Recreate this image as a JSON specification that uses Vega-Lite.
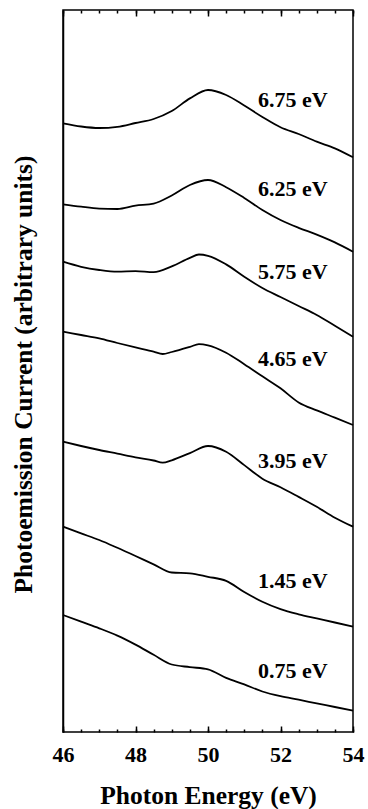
{
  "$schema": "https://vega.github.io/schema/vega-lite/v6.json",
  "width": 290,
  "height": 722,
  "autosize": "none",
  "padding": {"left": 63, "top": 10, "right": 15, "bottom": 77},
  "background": "white",
  "config": {
    "font": "Liberation Serif",
    "view": {"stroke": "black", "strokeWidth": 1.5},
    "axis": {"grid": false, "domain": false, "tickColor": "black", "tickWidth": 1.5}
  },
  "datasets": {
    "spectra": [
      {"series": "6.75 eV", "group": "upper", "energy": 46, "current": 608.7},
      {"series": "6.75 eV", "group": "upper", "energy": 46.5, "current": 605.5},
      {"series": "6.75 eV", "group": "upper", "energy": 47, "current": 604},
      {"series": "6.75 eV", "group": "upper", "energy": 47.5, "current": 605.2},
      {"series": "6.75 eV", "group": "upper", "energy": 48, "current": 609},
      {"series": "6.75 eV", "group": "upper", "energy": 48.5, "current": 613},
      {"series": "6.75 eV", "group": "upper", "energy": 49, "current": 621},
      {"series": "6.75 eV", "group": "upper", "energy": 49.5, "current": 633.6},
      {"series": "6.75 eV", "group": "upper", "energy": 50, "current": 642},
      {"series": "6.75 eV", "group": "upper", "energy": 50.5, "current": 637},
      {"series": "6.75 eV", "group": "upper", "energy": 51, "current": 626.5},
      {"series": "6.75 eV", "group": "upper", "energy": 51.5, "current": 615},
      {"series": "6.75 eV", "group": "upper", "energy": 52, "current": 604.7},
      {"series": "6.75 eV", "group": "upper", "energy": 52.5, "current": 598},
      {"series": "6.75 eV", "group": "upper", "energy": 53, "current": 590.3},
      {"series": "6.75 eV", "group": "upper", "energy": 53.5, "current": 583.7},
      {"series": "6.75 eV", "group": "upper", "energy": 54, "current": 574.7},

      {"series": "6.25 eV", "group": "upper", "energy": 46, "current": 527.7},
      {"series": "6.25 eV", "group": "upper", "energy": 46.5, "current": 525.3},
      {"series": "6.25 eV", "group": "upper", "energy": 47, "current": 523.4},
      {"series": "6.25 eV", "group": "upper", "energy": 47.5, "current": 523},
      {"series": "6.25 eV", "group": "upper", "energy": 48, "current": 526.3},
      {"series": "6.25 eV", "group": "upper", "energy": 48.5, "current": 528.4},
      {"series": "6.25 eV", "group": "upper", "energy": 49, "current": 536.5},
      {"series": "6.25 eV", "group": "upper", "energy": 49.5, "current": 547},
      {"series": "6.25 eV", "group": "upper", "energy": 50, "current": 552},
      {"series": "6.25 eV", "group": "upper", "energy": 50.5, "current": 544.8},
      {"series": "6.25 eV", "group": "upper", "energy": 51, "current": 534},
      {"series": "6.25 eV", "group": "upper", "energy": 51.5, "current": 522},
      {"series": "6.25 eV", "group": "upper", "energy": 52, "current": 512},
      {"series": "6.25 eV", "group": "upper", "energy": 52.5, "current": 504.2},
      {"series": "6.25 eV", "group": "upper", "energy": 53, "current": 497.4},
      {"series": "6.25 eV", "group": "upper", "energy": 53.5, "current": 489.6},
      {"series": "6.25 eV", "group": "upper", "energy": 54, "current": 480.3},

      {"series": "5.75 eV", "group": "upper", "energy": 46, "current": 470.3},
      {"series": "5.75 eV", "group": "upper", "energy": 46.5, "current": 465.2},
      {"series": "5.75 eV", "group": "upper", "energy": 47, "current": 462},
      {"series": "5.75 eV", "group": "upper", "energy": 47.5, "current": 460.3},
      {"series": "5.75 eV", "group": "upper", "energy": 48, "current": 460.9},
      {"series": "5.75 eV", "group": "upper", "energy": 48.5, "current": 459.8},
      {"series": "5.75 eV", "group": "upper", "energy": 49, "current": 465.6},
      {"series": "5.75 eV", "group": "upper", "energy": 49.5, "current": 474.1},
      {"series": "5.75 eV", "group": "upper", "energy": 49.75, "current": 477.5},
      {"series": "5.75 eV", "group": "upper", "energy": 50, "current": 476.2},
      {"series": "5.75 eV", "group": "upper", "energy": 50.5, "current": 467.6},
      {"series": "5.75 eV", "group": "upper", "energy": 51, "current": 455.2},
      {"series": "5.75 eV", "group": "upper", "energy": 51.5, "current": 444},
      {"series": "5.75 eV", "group": "upper", "energy": 52, "current": 435},
      {"series": "5.75 eV", "group": "upper", "energy": 52.5, "current": 426},
      {"series": "5.75 eV", "group": "upper", "energy": 53, "current": 417},
      {"series": "5.75 eV", "group": "upper", "energy": 53.5, "current": 406.2},
      {"series": "5.75 eV", "group": "upper", "energy": 54, "current": 395.3},

      {"series": "4.65 eV", "group": "upper", "energy": 46, "current": 400.3},
      {"series": "4.65 eV", "group": "upper", "energy": 46.5, "current": 397},
      {"series": "4.65 eV", "group": "upper", "energy": 47, "current": 393.7},
      {"series": "4.65 eV", "group": "upper", "energy": 47.5, "current": 389},
      {"series": "4.65 eV", "group": "upper", "energy": 48, "current": 384.6},
      {"series": "4.65 eV", "group": "upper", "energy": 48.5, "current": 380.4},
      {"series": "4.65 eV", "group": "upper", "energy": 48.75, "current": 378},
      {"series": "4.65 eV", "group": "upper", "energy": 49, "current": 380},
      {"series": "4.65 eV", "group": "upper", "energy": 49.5, "current": 385.1},
      {"series": "4.65 eV", "group": "upper", "energy": 49.75, "current": 387.9},
      {"series": "4.65 eV", "group": "upper", "energy": 50, "current": 386.7},
      {"series": "4.65 eV", "group": "upper", "energy": 50.5, "current": 379.3},
      {"series": "4.65 eV", "group": "upper", "energy": 51, "current": 367.8},
      {"series": "4.65 eV", "group": "upper", "energy": 51.5, "current": 355.7},
      {"series": "4.65 eV", "group": "upper", "energy": 52, "current": 343.7},
      {"series": "4.65 eV", "group": "upper", "energy": 52.5, "current": 329.6},
      {"series": "4.65 eV", "group": "upper", "energy": 53, "current": 321.6},
      {"series": "4.65 eV", "group": "upper", "energy": 53.5, "current": 314.4},
      {"series": "4.65 eV", "group": "upper", "energy": 54, "current": 307},

      {"series": "3.95 eV", "group": "lower", "energy": 46, "current": 290.3},
      {"series": "3.95 eV", "group": "lower", "energy": 46.5, "current": 286},
      {"series": "3.95 eV", "group": "lower", "energy": 47, "current": 282},
      {"series": "3.95 eV", "group": "lower", "energy": 47.5, "current": 278.4},
      {"series": "3.95 eV", "group": "lower", "energy": 48, "current": 274.7},
      {"series": "3.95 eV", "group": "lower", "energy": 48.5, "current": 271.5},
      {"series": "3.95 eV", "group": "lower", "energy": 48.75, "current": 269.3},
      {"series": "3.95 eV", "group": "lower", "energy": 49, "current": 271.7},
      {"series": "3.95 eV", "group": "lower", "energy": 49.5, "current": 278.9},
      {"series": "3.95 eV", "group": "lower", "energy": 50, "current": 286},
      {"series": "3.95 eV", "group": "lower", "energy": 50.5, "current": 280.3},
      {"series": "3.95 eV", "group": "lower", "energy": 51, "current": 266.9},
      {"series": "3.95 eV", "group": "lower", "energy": 51.5, "current": 253.3},
      {"series": "3.95 eV", "group": "lower", "energy": 52, "current": 244.7},
      {"series": "3.95 eV", "group": "lower", "energy": 52.5, "current": 235.1},
      {"series": "3.95 eV", "group": "lower", "energy": 53, "current": 225.2},
      {"series": "3.95 eV", "group": "lower", "energy": 53.5, "current": 214.3},
      {"series": "3.95 eV", "group": "lower", "energy": 54, "current": 205.3},

      {"series": "1.45 eV", "group": "lower", "energy": 46, "current": 205.3},
      {"series": "1.45 eV", "group": "lower", "energy": 46.5, "current": 198.6},
      {"series": "1.45 eV", "group": "lower", "energy": 47, "current": 192},
      {"series": "1.45 eV", "group": "lower", "energy": 47.5, "current": 184.2},
      {"series": "1.45 eV", "group": "lower", "energy": 48, "current": 176},
      {"series": "1.45 eV", "group": "lower", "energy": 48.5, "current": 167.6},
      {"series": "1.45 eV", "group": "lower", "energy": 49, "current": 159.5},
      {"series": "1.45 eV", "group": "lower", "energy": 49.5, "current": 158.7},
      {"series": "1.45 eV", "group": "lower", "energy": 50, "current": 155.2},
      {"series": "1.45 eV", "group": "lower", "energy": 50.5, "current": 151.2},
      {"series": "1.45 eV", "group": "lower", "energy": 51, "current": 140},
      {"series": "1.45 eV", "group": "lower", "energy": 51.5, "current": 130.2},
      {"series": "1.45 eV", "group": "lower", "energy": 52, "current": 122.8},
      {"series": "1.45 eV", "group": "lower", "energy": 52.5, "current": 117.7},
      {"series": "1.45 eV", "group": "lower", "energy": 53, "current": 113.6},
      {"series": "1.45 eV", "group": "lower", "energy": 53.5, "current": 109.5},
      {"series": "1.45 eV", "group": "lower", "energy": 54, "current": 105.3},

      {"series": "0.75 eV", "group": "lower", "energy": 46, "current": 117},
      {"series": "0.75 eV", "group": "lower", "energy": 46.5, "current": 110.3},
      {"series": "0.75 eV", "group": "lower", "energy": 47, "current": 103.7},
      {"series": "0.75 eV", "group": "lower", "energy": 47.5, "current": 96.4},
      {"series": "0.75 eV", "group": "lower", "energy": 48, "current": 87.4},
      {"series": "0.75 eV", "group": "lower", "energy": 48.5, "current": 77.2},
      {"series": "0.75 eV", "group": "lower", "energy": 49, "current": 67.5},
      {"series": "0.75 eV", "group": "lower", "energy": 49.5, "current": 64.9},
      {"series": "0.75 eV", "group": "lower", "energy": 50, "current": 62.7},
      {"series": "0.75 eV", "group": "lower", "energy": 50.5, "current": 54.2},
      {"series": "0.75 eV", "group": "lower", "energy": 51, "current": 47.6},
      {"series": "0.75 eV", "group": "lower", "energy": 51.5, "current": 40.5},
      {"series": "0.75 eV", "group": "lower", "energy": 52, "current": 35.8},
      {"series": "0.75 eV", "group": "lower", "energy": 52.5, "current": 32.3},
      {"series": "0.75 eV", "group": "lower", "energy": 53, "current": 28.6},
      {"series": "0.75 eV", "group": "lower", "energy": 53.5, "current": 25},
      {"series": "0.75 eV", "group": "lower", "energy": 54, "current": 21.3}
    ],
    "labels": [
      {"label": "6.75 eV", "group": "upper", "energy": 51.38, "current": 632},
      {"label": "6.25 eV", "group": "upper", "energy": 51.38, "current": 543},
      {"label": "5.75 eV", "group": "upper", "energy": 51.38, "current": 460},
      {"label": "4.65 eV", "group": "upper", "energy": 51.38, "current": 373},
      {"label": "3.95 eV", "group": "lower", "energy": 51.38, "current": 271},
      {"label": "1.45 eV", "group": "lower", "energy": 51.38, "current": 151},
      {"label": "0.75 eV", "group": "lower", "energy": 51.38, "current": 61}
    ]
  },
  "resolve": {"axis": {"x": "independent"}},
  "layer": [
    {
      "data": {"name": "spectra"},
      "transform": [{"filter": "datum.group === 'upper'"}],
      "mark": {"type": "line", "color": "black", "strokeWidth": 1.8, "interpolate": "monotone"},
      "encoding": {
        "x": {
          "field": "energy",
          "type": "quantitative",
          "scale": {"domain": [46, 54], "nice": false, "zero": false},
          "axis": {
            "orient": "bottom",
            "title": "Photon Energy (eV)",
            "values": [46, 48, 50, 52, 54],
            "format": "d",
            "tickSize": -6,
            "labelFont": "Liberation Serif",
            "labelFontSize": 22,
            "labelFontWeight": "bold",
            "labelColor": "black",
            "labelPadding": 18,
            "labelOverlap": false,
            "labelFlush": false,
            "titleFont": "Liberation Serif",
            "titleFontSize": 25.5,
            "titleFontWeight": "bold",
            "titleColor": "black",
            "titlePadding": 18
          }
        },
        "y": {
          "field": "current",
          "type": "quantitative",
          "scale": {"domain": [0, 722], "nice": false, "zero": false},
          "axis": {
            "title": "Photoemission Current (arbitrary units)",
            "labels": false,
            "ticks": false,
            "domain": true,
            "domainColor": "black",
            "domainWidth": 1.5,
            "titleFont": "Liberation Serif",
            "titleFontSize": 25.5,
            "titleFontWeight": "bold",
            "titleColor": "black",
            "titleAngle": -90,
            "titleAlign": "center",
            "titleBaseline": "alphabetic",
            "titleX": -32,
            "titleY": 364
          }
        },
        "detail": {"field": "series"}
      }
    },
    {
      "data": {"name": "spectra"},
      "transform": [{"filter": "datum.group === 'lower'"}],
      "mark": {"type": "line", "color": "black", "strokeWidth": 1.8, "interpolate": "monotone"},
      "encoding": {
        "x": {
          "field": "energy",
          "type": "quantitative",
          "axis": {
            "orient": "bottom",
            "title": null,
            "labels": false,
            "values": [46, 46.5, 47, 47.5, 48, 48.5, 49, 49.5, 50, 50.5, 51, 51.5, 52, 52.5, 53, 53.5, 54],
            "tickSize": -3
          }
        },
        "y": {"field": "current", "type": "quantitative"},
        "detail": {"field": "series"}
      }
    },
    {
      "data": {"name": "labels"},
      "transform": [{"filter": "datum.group === 'upper'"}],
      "mark": {"type": "text", "align": "left", "baseline": "middle", "font": "Liberation Serif", "fontSize": 22, "fontWeight": "bold", "color": "black"},
      "encoding": {
        "x": {
          "field": "energy",
          "type": "quantitative",
          "axis": {
            "orient": "top",
            "title": null,
            "labels": false,
            "values": [46, 48, 50, 52, 54],
            "tickSize": -6
          }
        },
        "y": {"field": "current", "type": "quantitative"},
        "text": {"field": "label"}
      }
    },
    {
      "data": {"name": "labels"},
      "transform": [{"filter": "datum.group === 'lower'"}],
      "mark": {"type": "text", "align": "left", "baseline": "middle", "font": "Liberation Serif", "fontSize": 22, "fontWeight": "bold", "color": "black"},
      "encoding": {
        "x": {
          "field": "energy",
          "type": "quantitative",
          "axis": {
            "orient": "top",
            "title": null,
            "labels": false,
            "values": [46, 46.5, 47, 47.5, 48, 48.5, 49, 49.5, 50, 50.5, 51, 51.5, 52, 52.5, 53, 53.5, 54],
            "tickSize": -3
          }
        },
        "y": {"field": "current", "type": "quantitative"},
        "text": {"field": "label"}
      }
    }
  ]
}
